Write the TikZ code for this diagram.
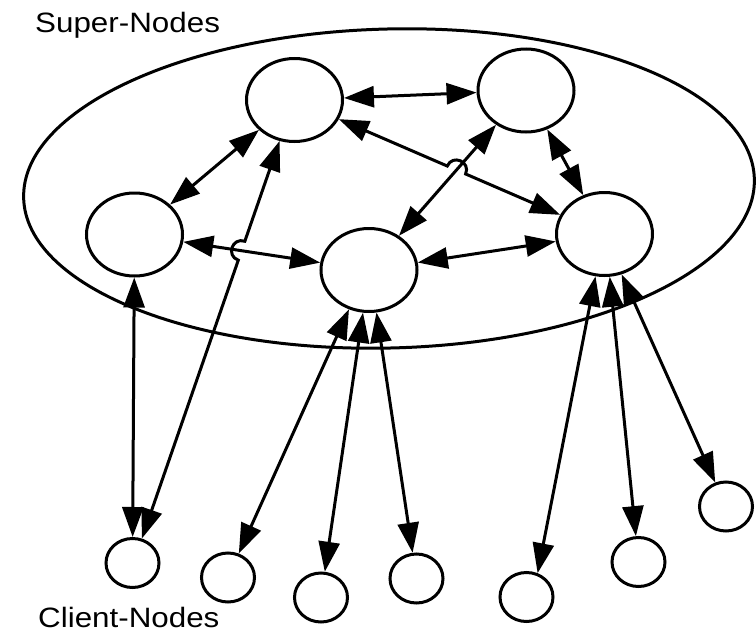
\documentclass[tikz,border=0pt]{standalone}
\usepackage{fontspec}
\newfontfamily\labfont[FakeStretch=1.12]{Liberation Sans}
\usetikzlibrary{arrows.meta,shapes.geometric,intersections,calc}
\begin{document}
\begin{tikzpicture}[x=1pt,y=-1pt,
  supernode/.style={ellipse, draw, line width=3pt, minimum width=96pt, minimum height=83pt, inner sep=0pt},
  clientnode/.style={ellipse, draw, line width=3pt, minimum width=53pt, minimum height=49pt, inner sep=0pt},
  groupbox/.style={ellipse, draw, line width=3pt, inner sep=0pt},
  link/.style={line width=3pt, {Triangle[length=30pt,width=21pt]}-{Triangle[length=30pt,width=21pt]}},
  lbl/.style={font=\labfont\fontsize{28}{32}\selectfont, inner sep=0pt}
]
\useasboundingbox (0,0) rectangle (756,632);

% group ellipse
\node[groupbox, minimum width=731pt, minimum height=319pt, rotate=1.5] (group) at (389,188.5) {};

% labels
\node[lbl, anchor=base west] (sn) at (35,32) {Super-Nodes};
\node[lbl, anchor=base west] (cn) at (38,627) {Client-Nodes};

% super nodes
\node[supernode] (A) at (294.5,100) {};
\node[supernode] (B) at (526,90.5) {};
\node[supernode] (C) at (134.5,234.5) {};
\node[supernode] (D) at (369,270) {};
\node[supernode] (E) at (604.5,234) {};

% client nodes
\node[clientnode] (c1) at (132.5,563) {};
\node[clientnode] (c2) at (228,577.5) {};
\node[clientnode] (c3) at (321,597.5) {};
\node[clientnode] (c4) at (416.5,578.5) {};
\node[clientnode] (c5) at (526.5,597) {};
\node[clientnode] (c6) at (638.5,562) {};
\node[clientnode] (c7) at (726,506.5) {};

% super-node links
\draw[link] (A) -- (B);
\draw[link] (A) -- (C);
\draw[link] (C) -- (D);
\draw[link] (B) -- (D);
\draw[link] (B) -- (E);
\draw[link] (D) -- (E);

% A -- E with a hop over B -- D
\path[name path=bdpath] (B) -- (D);
\path[name path=aepath] (A) -- (E);
\path[name intersections={of=bdpath and aepath, by=X2}];
\coordinate (S2) at ($(X2)!10pt!(A)$);
\coordinate (T2) at ($(X2)!10pt!(E)$);
\draw[link] (A) -- (S2) .. controls ($(S2)!4/3!90:(X2)$) and ($(T2)!4/3!-90:(X2)$) .. (T2) -- (E);

% client links
\draw[link] (C) -- (c1);
\path[name path=cdpath] (C) -- (D);
\path[name path=acpath] (A.250) -- (c1.69);
\path[name intersections={of=cdpath and acpath, by=X1}];
\coordinate (S1) at ($(X1)!10pt!(A.250)$);
\coordinate (T1) at ($(X1)!10pt!(c1.69)$);
\draw[link] (A.250) -- (S1) .. controls ($(S1)!4/3!-90:(X1)$) and ($(T1)!4/3!90:(X1)$) .. (T1) -- (c1.69);

\draw[link] (D.243) -- (c2);
\draw[link] (D.262) -- (c3);
\draw[link] (D.280) -- (c4);
\draw[link] (E.258) -- (c5.65);
\draw[link] (E.277) -- (c6);
\draw[link] (E.293) -- (c7);
\end{tikzpicture}
\end{document}
